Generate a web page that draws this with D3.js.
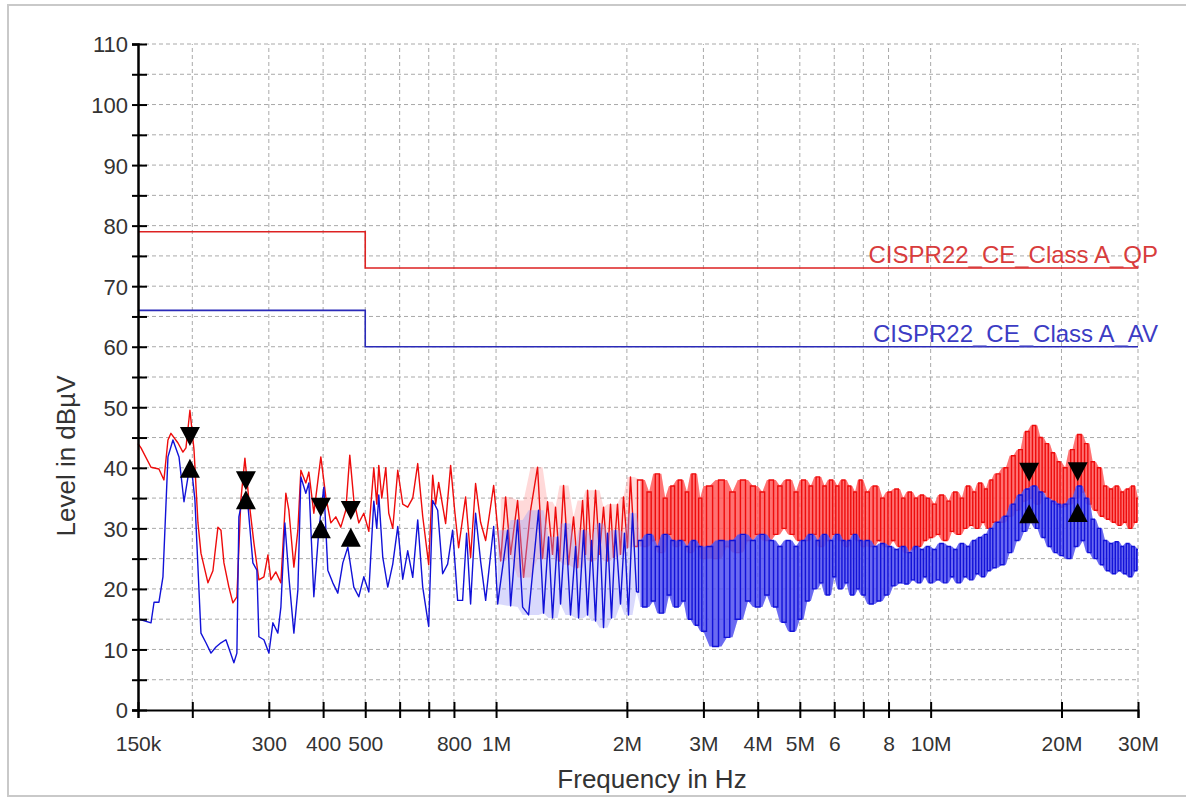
<!DOCTYPE html>
<html><head><meta charset="utf-8">
<script src="https://cdn.jsdelivr.net/npm/d3@7/dist/d3.min.js"></script>
<style>
html,body{margin:0;padding:0;background:#fff;}
svg{display:block;font-family:"Liberation Sans",Arial,sans-serif;}
</style></head><body>
<svg id="chart" width="1186" height="799"></svg>
<script>
// ---------- DATA ----------
// axis ticks (frequency in MHz)
const xTickFreqs  = [0.15,0.2,0.3,0.4,0.5,0.6,0.7,0.8,1,2,3,4,5,6,7,8,10,20,30];
const xTickLabels = ["150k","","300","400","500","","","800","1M","2M","3M","4M","5M","6","","8","10M","20M","30M"];
const yTicks      = [0,5,10,15,20,25,30,35,40,45,50,55,60,65,70,75,80,85,90,95,100,105,110];
const yTickLabels = ["0","","10","","20","","30","","40","","50","","60","","70","","80","","90","","100","","110"];

// limit lines [MHz, dBuV]
const qpLimit = [[0.15,79],[0.5,79],[0.5,73],[30,73]];
const avLimit = [[0.15,66],[0.5,66],[0.5,60],[30,60]];
const qpLimitName = "CISPR22_CE_Class A_QP";
const avLimitName = "CISPR22_CE_Class A_AV";

// peak (red) trace, 150 kHz .. 2.1 MHz  [MHz, dBuV]
const peakLowMid = [[0.150,44],[0.1524,43.3],[0.1607,40.1],[0.1676,39.8],[0.1721,38.0],[0.1758,44.6],[0.1786,45.7],[0.1854,44.1],[0.1903,42.6],[0.1934,43.3],[0.1975,49.5],[0.2018,43.0],[0.2061,30.9],[0.2094,25.9],[0.2173,21.0],[0.2231,23.0],[0.2291,30.2],[0.2328,29.7],[0.2365,24.3],[0.2428,20.3],[0.2480,17.7],[0.2533,18.7],[0.2587,34.7],[0.2643,41.6],[0.2699,34.7],[0.2772,27.6],[0.2846,21.5],[0.2923,22.0],[0.2985,25.6],[0.3033,21.5],[0.3114,22.8],[0.3198,21.0],[0.3283,35.8],[0.3336,33.0],[0.3426,23.6],[0.3499,29.7],[0.3555,39.6],[0.3650,37.5],[0.3709,39.3],[0.3808,32.5],[0.3952,41.8],[0.4058,35.2],[0.4167,30.9],[0.4278,31.9],[0.4393,30.2],[0.4511,33.0],[0.4607,42.1],[0.4706,34.7],[0.4832,30.9],[0.4962,32.5],
[0.5096,29.5],[0.5232,40],[0.5315,34],[0.5372,40.4],[0.5458,35],[0.5575,40],[0.5664,32.5],[0.5785,30],[0.5940,39.6],[0.6099,34],[0.6262,33.5],[0.6431,35],[0.6603,40.7],[0.6780,32],[0.6998,24],[0.7148,38.8],[0.7262,34],[0.7378,37.6],[0.7656,30.8],[0.7861,40.4],[0.8030,33],[0.8201,26.8],[0.8510,35.2],[0.8738,25.2],[0.8972,37.4],[0.9213,31],[0.9464,28],[0.9874,37.1],[1.0246,24.6],[1.0520,35.2],[1.0802,25.7],[1.1209,34.6],[1.1571,21.9],[1.2007,33],[1.2460,40.1],[1.2794,25],[1.3137,34.4],[1.3489,25.7],[1.3704,33.5],[1.3998,24.6],[1.4299,37.1],[1.4680,24],[1.5077,31.9],[1.5402,23.5],[1.5816,34.6],[1.6068,25.7],[1.6239,36.3],[1.6586,24.6],[1.6940,36.3],[1.7301,25.7],[1.7673,33.5],[1.8050,24.6],[1.8339,34],[1.8632,25.2],[1.9031,34],[1.9335,25.7],[1.9644,35.2],[2.0065,26.8],[2.0385,38.5],[2.0820,27]];

// average (blue) trace, 150 kHz .. 2.1 MHz  [MHz, dBuV]
const avgLowMid = [[0.150,15],[0.1524,14.9],[0.1607,14.4],[0.1633,17.8],[0.1676,17.8],[0.1712,22.0],[0.1758,41.8],[0.1805,44.6],[0.1864,41.8],[0.1914,34.4],[0.1955,38.5],[0.1986,40.8],[0.2028,34.7],[0.2072,19.8],[0.2094,12.7],[0.2150,11.1],[0.2208,9.4],[0.2267,10.4],[0.2328,11.1],[0.2390,11.6],[0.2428,10.2],[0.2493,7.8],[0.2533,9.4],[0.2560,31.9],[0.2615,35.2],[0.2685,33.9],[0.2757,24.3],[0.2816,23.1],[0.2846,12.1],[0.2923,11.6],[0.3001,9.4],[0.3065,14.4],[0.3147,12.7],[0.3198,17.0],[0.3266,30.9],[0.3336,22.0],[0.3426,12.7],[0.3499,19.8],[0.3555,38.5],[0.3650,35.8],[0.3709,37.5],[0.3808,18.7],[0.3910,29.7],[0.4015,36.8],[0.4101,23.1],[0.4211,21.0],[0.4324,19.3],[0.4440,24.3],[0.4559,26.9],[0.4706,20.3],[0.4832,18.7],[0.4962,22.0],
[0.5096,19.5],[0.5232,34.5],[0.5315,30],[0.5372,35.5],[0.5487,25.2],[0.5634,20.3],[0.5785,24.1],[0.5940,30.3],[0.6099,21.6],[0.6262,26.3],[0.6431,21.9],[0.6603,31.4],[0.6780,20.3],[0.6998,13.8],[0.7148,34.6],[0.7339,33],[0.7535,22.5],[0.7737,24.1],[0.7945,29.7],[0.8158,18.1],[0.8376,18.1],[0.8555,29.2],[0.8738,17.5],[0.8972,32.5],[0.9213,24.6],[0.9464,18.1],[0.9874,30.3],[1.0084,17.5],[1.0632,29.7],[1.0802,17.2],[1.1209,31.4],[1.1511,17],[1.1880,15.7],[1.2525,33],[1.2862,16],[1.3206,28.6],[1.3489,15.2],[1.3851,28.6],[1.4072,17.5],[1.4449,30.8],[1.4836,15.7],[1.5240,27],[1.5483,15.2],[1.5900,29.7],[1.6239,15.7],[1.6586,28],[1.6940,14.7],[1.7301,30.8],[1.7673,13.6],[1.8050,29.2],[1.8435,15.2],[1.8830,29.7],[1.9335,17.5],[1.9750,29.2],[2.0171,15.7],[2.0602,32.5],[2.1049,19.5]];

// dense part 2.15 .. 30 MHz (alternating crest / trough of the harmonic comb)
const denseFreq = [2.15,2.2,2.25,2.3,2.35,2.4,2.45,2.5,2.55,2.6,2.65,2.7,2.75,2.8,2.85,2.9,2.95,3.0,
3.1,3.2,3.3,3.4,3.5,3.6,3.7,3.8,3.9,4.0,4.1,4.2,4.3,4.4,4.5,4.6,4.7,4.8,4.9,5.0,
5.1,5.2,5.3,5.4,5.5,5.6,5.7,5.8,5.9,6.0,6.1,6.2,6.3,6.4,6.5,6.6,6.7,6.8,6.9,7.0,
7.15,7.3,7.45,7.6,7.75,7.9,8.05,8.2,8.35,8.5,8.65,8.8,8.95,9.1,9.25,9.4,9.55,9.7,
9.85,10.0,10.2,10.4,10.6,10.8,11.0,11.2,11.4,11.6,11.8,12.0,12.2,12.4,12.6,12.8,13.0,13.2,13.4,13.6,13.8,14.0,
14.3,14.6,14.9,15.2,15.5,15.8,16.1,16.4,16.7,17.0,17.3,17.6,17.9,18.2,18.5,18.8,19.1,19.4,19.7,20.0,
20.4,20.8,21.2,21.6,22.0,22.4,22.8,23.2,23.6,24.0,24.4,24.8,25.2,25.6,26.0,26.4,26.8,27.2,27.6,28.0,28.4,28.8,29.2,29.6,30.0];
const peakDense = [38,27,36,28,39,26,35,29,37,27,38,28,36,26,39,27,35,25,
37,25,38,27,36,26,38,28,37,29,36,28,38,29,37,30,38,29,36,28,
38,28,37,29,38.5,27,37,28,38,29,37,28,38,27,37,29,36,28,38,27,
36,27,37,28,35,27,36,28,36.5,27,35,26,36,26.5,35,27,35.5,28,
35,28.5,34,29,35.5,28,34.5,29.5,36,29,35,30,37,30.5,36,30,37.5,31,36.5,30,38,31,
39,31,40,32,42,33,43,34.5,46,35,47,34,45,36,44,35,42.5,34,41,33.5,
40,34,43,35,45.5,36,44,34,41,33,40,32,37,31.5,36.5,31,37,30.5,36,31,36.5,30,37,31,35];
const avgDense = [28,17,29,18,27,16,29,19,28,17,28,18,27,15,28,14,27,13,
27,10.5,28,12,28,15,29,18,28,17,29,19,28,17,27,14.5,28,13,27,15,
28,18,29,20,28,21,29,19,28,22,29,20,28,21,28,19,29,20,28,19,
28,17.5,27,18,27.5,19,27,20.5,26.5,21,27,20.8,26,21.5,27,21,26.5,22,
27,21,26.5,21.5,27.5,21,27,22,26.5,21,27.5,22,27,21.5,28,22.5,28.5,22,29,23,30,23.5,
31,24,32,26,34,28,35.5,29.5,36.5,31,37,30,36,28.5,35,27,34.5,26,34,25.5,
34,25,35,27,37,28,35,26,31.5,25,30,24,28,23,27.5,22.5,27.8,23,27,22.5,27.5,22,27,23,26.5];

// final measurement markers
const markerFreq = [0.1975,0.2657,0.3952,0.4632,16.85,21.8];
const markerQP   = [43.6,36.3,31.9,31.4,37.7,37.8];
const markerAV   = [41.5,36.3,31.5,30.1,34.0,34.2];

// ---------- CHART ----------
const svg = d3.select("#chart");
const x = d3.scaleLog().domain([0.15,30]).range([138,1138]);
const y = d3.scaleLinear().domain([0,110]).range([710,44]);

svg.append("rect").attr("x",8).attr("y",5).attr("width",1200).attr("height",791)
  .attr("fill","#fff").attr("stroke","#c9c9c9").attr("stroke-width",2);

// grid
const grid = svg.append("g").attr("stroke","#a9a9a9").attr("stroke-width",1).attr("stroke-dasharray","4,3");
grid.selectAll("line.h").data(yTicks.filter(d=>d>0)).join("line")
  .attr("x1",x(0.15)).attr("x2",x(30)).attr("y1",d=>y(d)).attr("y2",d=>y(d));
grid.selectAll("line.v").data(xTickFreqs.filter(d=>d>0.15)).join("line")
  .attr("y1",y(0)).attr("y2",y(110)).attr("x1",d=>x(d)).attr("x2",d=>x(d));

// limit lines
const line = d3.line().x(d=>x(d[0])).y(d=>y(d[1]));
const stepLine = d3.line().x(d=>x(d[0])).y(d=>y(d[1])).curve(d3.curveStep);
svg.append("path").attr("d",line(qpLimit)).attr("fill","none").attr("stroke","#dd2222").attr("stroke-width",1.6);
svg.append("path").attr("d",line(avLimit)).attr("fill","none").attr("stroke","#2a2ab8").attr("stroke-width",1.6);
svg.append("text").attr("x",1158).attr("y",y(73)-5).attr("text-anchor","end").attr("font-size",24).attr("fill","#d83c3c").text(qpLimitName);
svg.append("text").attr("x",1158).attr("y",y(60)-5).attr("text-anchor","end").attr("font-size",24).attr("fill","#3c3cc4").text(avLimitName);

// traces
const band = d3.area().x(d=>x(d[0])).y0(d=>y(d[1])).y1(d=>y(d[2]));
function envelope(pts){
  return pts.map((p,i)=>{
    const w = pts.slice(Math.max(0,i-1), i+2).map(q=>q[1]);
    return [p[0], d3.min(w), d3.max(w)];
  });
}
const peakDensePts = denseFreq.map((f,i)=>[f,peakDense[i]]);
const avgDensePts  = denseFreq.map((f,i)=>[f,avgDense[i]]);
const peakMidOn = peakLowMid.filter(d=>d[0]>=1.0).concat(peakDensePts);
const avgMidOn  = avgLowMid.filter(d=>d[0]>=1.0).concat(avgDensePts);

function drawTrace(lowMid, densePts, midOn, light, strong, stroke){
  svg.append("path").attr("d",band(envelope(midOn))).attr("fill",light).attr("opacity",0.38);
  svg.append("path").attr("d",band(envelope(densePts))).attr("fill",strong).attr("opacity",0.8);
  svg.append("path").attr("d",line(lowMid)).attr("fill","none").attr("stroke",stroke).attr("stroke-width",1.4).attr("stroke-linejoin","round");
  svg.append("path").attr("d",stepLine([lowMid[lowMid.length-1]].concat(densePts))).attr("fill","none").attr("stroke",stroke).attr("stroke-width",1.4);
}
drawTrace(peakLowMid, peakDensePts, peakMidOn, "#ff9c9c", "#ff5858", "#ee0c0c");
drawTrace(avgLowMid,  avgDensePts,  avgMidOn,  "#9c9cf6", "#4e4eee", "#1212d8");

// markers
const mk = svg.append("g").attr("fill","#000");
markerFreq.forEach((f,i)=>{
  const cx = x(f), tq = y(markerQP[i]), ta = y(markerAV[i]);
  mk.append("path").attr("d",`M${cx-10},${tq-19}L${cx+10},${tq-19}L${cx},${tq}Z`);
  mk.append("path").attr("d",`M${cx-10},${ta+19}L${cx+10},${ta+19}L${cx},${ta}Z`);
});

// axes
const xAxis = d3.axisBottom(x).tickValues(xTickFreqs).tickFormat((d,i)=>xTickLabels[i]).tickSizeOuter(0).tickSize(8);
const gx = svg.append("g").attr("transform",`translate(0,${y(0)})`).call(xAxis);
gx.selectAll(".tick line").attr("y1",-8).attr("y2",8).attr("stroke","#000").attr("stroke-width",2);
gx.selectAll(".tick text").attr("y",41).attr("dy",0).attr("font-size",21).attr("fill","#333").attr("font-family","Liberation Sans, Arial, sans-serif");
gx.select(".domain").attr("stroke","#000").attr("stroke-width",2);

const yAxis = d3.axisLeft(y).tickValues(yTicks).tickFormat((d,i)=>yTickLabels[i]).tickSizeOuter(0).tickSize(6);
const gy = svg.append("g").attr("transform",`translate(${x(0.15)},0)`).call(yAxis);
gy.selectAll(".tick line").attr("x1",-6).attr("x2",9).attr("stroke","#000").attr("stroke-width",2);
gy.selectAll(".tick text").attr("x",-10).attr("dy","0.36em").attr("font-size",22).attr("fill","#333").attr("font-family","Liberation Sans, Arial, sans-serif");
gy.select(".domain").attr("stroke","#000").attr("stroke-width",2.5);

// titles
svg.append("text").attr("transform","translate(75,456) rotate(-90)").attr("text-anchor","middle").attr("font-size",26).attr("fill","#333").text("Level in dBµV");
svg.append("text").attr("x",652).attr("y",788).attr("text-anchor","middle").attr("font-size",26).attr("fill","#333").text("Frequency in Hz");
</script></body></html>
